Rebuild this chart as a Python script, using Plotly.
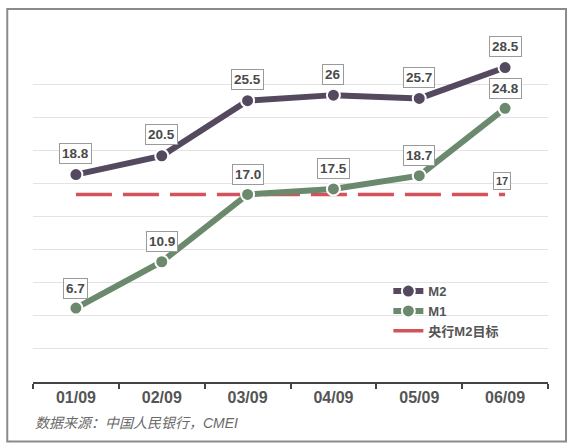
import plotly.graph_objects as go

months = ["01/09", "02/09", "03/09", "04/09", "05/09", "06/09"]
m2 = [18.8, 20.5, 25.5, 26, 25.7, 28.5]
m2_labels = ["18.8", "20.5", "25.5", "26", "25.7", "28.5"]
m1 = [6.7, 10.9, 17.0, 17.5, 18.7, 24.8]
m1_labels = ["6.7", "10.9", "17.0", "17.5", "18.7", "24.8"]
target = [17, 17, 17, 17, 17, 17]
target_label = "17"
source_text = "数据来源：中国人民银行，CMEI"

C_M2 = "#54495f"
C_M1 = "#6b8a6d"
C_T = "#d4525c"
FONT = "Liberation Sans, Arial, Noto Sans CJK SC, sans-serif"

fig = go.Figure()
fig.add_trace(go.Scatter(
    x=months, y=target, name="<b>央行M2目标</b>", mode="lines",
    line=dict(color=C_T, width=3.5, dash="36px,11px"),
    legendrank=3, cliponaxis=False))
fig.add_trace(go.Scatter(
    x=months, y=m2, name="<b>M2</b>", mode="lines+markers",
    line=dict(color=C_M2, width=6),
    marker=dict(size=13, color=C_M2, line=dict(color="white", width=2)),
    legendrank=1, cliponaxis=False))
fig.add_trace(go.Scatter(
    x=months, y=m1, name="<b>M1</b>", mode="lines+markers",
    line=dict(color=C_M1, width=6),
    marker=dict(size=13, color=C_M1, line=dict(color="white", width=2)),
    legendrank=2, cliponaxis=False))

ann = []
def box(x, y, t, shift, size=13.5, xshift=0):
    ann.append(dict(x=x, y=y, xref="x", yref="y", text="<b>" + t + "</b>",
                    showarrow=False, yshift=shift, xshift=xshift, bgcolor="white",
                    bordercolor="#9a9a9a", borderwidth=1, borderpad=2,
                    font=dict(family=FONT, size=size, color="#4a4a4a")))

for x, y, t in zip(months, m2, m2_labels):
    box(x, y, t, 21)
for x, y, t in zip(months, m1, m1_labels):
    box(x, y, t, 20)
box(months[-1], target[-1], target_label, 13, size=11, xshift=-3)

ann.append(dict(x=0, y=-0.125, xref="paper", yref="paper", xanchor="left",
                yanchor="middle", showarrow=False,
                text="<i>" + source_text + "</i>",
                font=dict(family=FONT, size=14, color="#6a6a6a")))

fig.update_layout(
    width=574, height=448,
    margin=dict(l=33, r=26, t=51, b=66),
    paper_bgcolor="white", plot_bgcolor="white",
    font=dict(family=FONT),
    annotations=ann,
    showlegend=True,
    legend=dict(x=0.69, y=0.32, xanchor="left", yanchor="top",
                traceorder="normal", bgcolor="rgba(0,0,0,0)",
                font=dict(family=FONT, size=13, color="#555555"),
                tracegroupgap=0, itemwidth=30),
    shapes=[dict(type="rect", xref="paper", yref="paper",
                 x0=-0.05, x1=1.035, y0=-0.18, y1=1.127,
                 line=dict(color="#8a8a8a", width=2), layer="below")],
)
fig.update_xaxes(
    type="category", range=[-0.5, 5.5], showgrid=False, showline=True,
    linecolor="#444444", linewidth=2, ticks="outside", tickson="boundaries",
    ticklen=5, tickwidth=2, tickcolor="#444444",
    tickfont=dict(family=FONT, size=16, color="#555555"),
    tickprefix="<b>", ticksuffix="</b>")
fig.update_yaxes(
    range=[0, 30], dtick=3, showgrid=True, gridcolor="#e3e3e3", gridwidth=1,
    showticklabels=False, zeroline=False, showline=False)

fig.write_html("out.html", config={"displayModeBar": False},
               post_script="document.body.style.margin='0';document.body.style.padding='0';")
